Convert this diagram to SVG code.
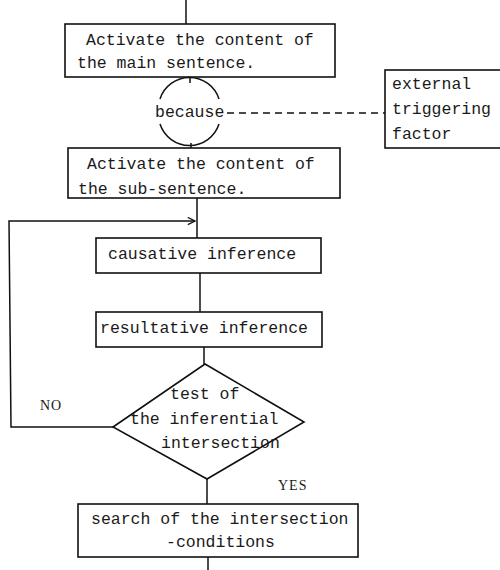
<svg xmlns="http://www.w3.org/2000/svg" width="500" height="570" viewBox="0 0 500 570">
<defs>
<style>
.box{fill:#fff;stroke:#111;stroke-width:1.6}
.ln{fill:none;stroke:#111;stroke-width:1.5}
.t{font-family:"Liberation Mono","DejaVu Sans Mono",monospace;font-size:16.5px;fill:#1a1a1a}
.s{font-family:"Liberation Serif","Times New Roman",serif;font-size:14px;letter-spacing:1px;fill:#1a1a1a}
</style>
<marker id="arr" viewBox="0 0 10 10" refX="9" refY="5" markerWidth="9" markerHeight="9" markerUnits="userSpaceOnUse" orient="auto">
<path d="M1,1 L9,5 L1,9" fill="none" stroke="#111" stroke-width="1.4"/>
</marker>
</defs>
<rect width="500" height="570" fill="#fff"/>
<g id="connectors">
<line class="ln" x1="186" y1="0" x2="186" y2="24"/>
<line class="ln" x1="190" y1="77" x2="190" y2="83"/>
<line class="ln" x1="191" y1="143" x2="191" y2="148"/>
<line class="ln" x1="227" y1="113" x2="385" y2="113" stroke-dasharray="7,5"/>
<line class="ln" x1="197" y1="198" x2="197" y2="238"/>
<line class="ln" x1="200" y1="273" x2="200" y2="312"/>
<line class="ln" x1="204" y1="347" x2="204" y2="364"/>
<line class="ln" x1="207" y1="479" x2="207" y2="504"/>
<line class="ln" x1="208" y1="557" x2="208" y2="570"/>
<polyline class="ln" points="113,427 11,427 9,221 195,221" marker-end="url(#arr)"/>
<text class="s" x="40" y="410">NO</text>
<text class="s" x="278" y="490">YES</text>
</g>
<g id="main">
<rect class="box" x="65" y="24" width="270" height="53"/>
<text class="t" x="86" y="45">Activate the content of</text>
<text class="t" x="77" y="68">the main sentence.</text>
</g>
<g id="because">
<path class="ln" d="M160,99 A31,31 0 0 1 219,99"/>
<path class="ln" d="M160,124 A31,31 0 0 0 219,124"/>
<text class="t" x="155" y="117">because</text>
</g>
<g id="external">
<rect class="box" x="385" y="70" width="120" height="78"/>
<text class="t" x="392" y="89">external</text>
<text class="t" x="392" y="114">triggering</text>
<text class="t" x="392" y="139">factor</text>
</g>
<g id="sub">
<rect class="box" x="68" y="148" width="272" height="50"/>
<text class="t" x="87" y="169">Activate the content of</text>
<text class="t" x="78" y="194">the sub-sentence.</text>
</g>
<g id="causative">
<rect class="box" x="96" y="238" width="225" height="35"/>
<text class="t" x="108" y="259">causative inference</text>
</g>
<g id="resultative">
<rect class="box" x="96" y="312" width="226" height="35"/>
<text class="t" x="100" y="333">resultative inference</text>
</g>
<g id="test">
<polygon class="box" points="205,364 304,422 207,479 113,427"/>
<text class="t" x="170" y="399">test of</text>
<text class="t" x="130" y="424">the inferential</text>
<text class="t" x="161" y="448">intersection</text>
</g>
<g id="search">
<rect class="box" x="78" y="504" width="280" height="53"/>
<text class="t" x="91" y="524">search of the intersection</text>
<text class="t" x="166" y="547">-conditions</text>
</g>
</svg>
